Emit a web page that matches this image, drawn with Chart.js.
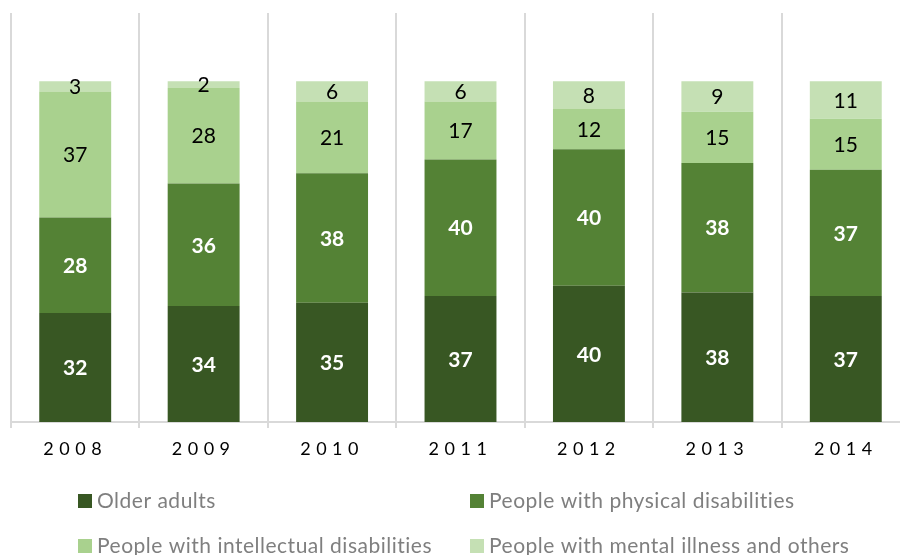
<!DOCTYPE html>
<html>
<head>
<meta charset="utf-8">
<script src="https://cdn.jsdelivr.net/npm/chart.js@4"></script>
<style>
html,body{margin:0;padding:0;overflow:hidden;background:#fff;width:900px;height:555px;}
canvas{display:block;}
</style>
</head>
<body>
<canvas id="c" width="920" height="555"></canvas>
<script>
const years = ["2008","2009","2010","2011","2012","2013","2014"];
const seriesNames = ["Older adults","People with physical disabilities","People with intellectual disabilities","People with mental illness and others"];
const olderAdults = [32,34,35,37,40,38,37];
const physical = [28,36,38,40,40,38,37];
const intellectual = [37,28,21,17,12,15,15];
const mental = [3,2,6,6,8,9,11];
const colors = ["#385723","#548235","#a9d18e","#c5e0b4"];
const labelColors = ["#ffffff","#ffffff","#000000","#000000"];
const labelWeights = ["bold","bold","normal","normal"];
const FONT = "Lato, 'Open Sans', sans-serif";

const spacing = {
  id:'spacing',
  beforeDraw(chart){ chart.ctx.letterSpacing = '5.5px'; },
  beforeDatasetsDraw(chart){ chart.ctx.letterSpacing = '0px'; }
};

const valueLabels = {
  id:'valueLabels',
  afterDatasetsDraw(chart){
    const ctx = chart.ctx;
    ctx.save();
    ctx.letterSpacing = '0px';
    ctx.textAlign='center';
    ctx.textBaseline='middle';
    chart.data.datasets.forEach((ds,i)=>{
      const meta = chart.getDatasetMeta(i);
      meta.data.forEach((el,j)=>{
        const cy = (el.y + el.base)/2;
        ctx.fillStyle = labelColors[i];
        ctx.font = labelWeights[i] + " 21px " + FONT;
        ctx.fillText(String(ds.data[j]), el.x, cy+1);
      });
    });
    ctx.restore();
  }
};

const customLegend = {
  id:'customLegend',
  afterDraw(chart){
    const ctx = chart.ctx;
    ctx.save();
    ctx.letterSpacing = '0.5px';
    const pos = [[78,501],[470,501],[78,546],[470,546]];
    chart.data.datasets.forEach((ds,i)=>{
      const [x,y] = pos[i];
      ctx.fillStyle = ds.backgroundColor;
      ctx.fillRect(x, y-7, 14, 14);
      ctx.fillStyle = "#7f7f7f";
      ctx.font = "21px " + FONT;
      ctx.textAlign='left';
      ctx.textBaseline='middle';
      ctx.fillText(ds.label, x+19, y);
    });
    ctx.restore();
  }
};

const dataSeries = [olderAdults, physical, intellectual, mental];

new Chart(document.getElementById('c'), {
  type:'bar',
  data:{
    labels: years,
    datasets: dataSeries.map((d,i)=>({
      label: seriesNames[i],
      data: d,
      backgroundColor: colors[i],
      borderWidth:0,
      barPercentage:0.56,
      categoryPercentage:1.0
    }))
  },
  options:{
    responsive:false,
    animation:false,
    devicePixelRatio:1,
    layout:{padding:{left:11,right:10,top:13,bottom:0}},
    plugins:{legend:{display:false},tooltip:{enabled:false}},
    scales:{
      x:{
        stacked:true,
        offset:true,
        grid:{display:true,offset:true,color:'#d9d9d9',lineWidth:2,tickLength:6,drawOnChartArea:true},
        border:{display:true,color:'#d9d9d9',width:2},
        ticks:{
          color:'#000',
          padding:10,
          font:{family:FONT,size:18}
        },
        afterFit(scale){ scale.height = 133; }
      },
      y:{
        stacked:true,
        display:false,
        min:0,
        max:120
      }
    }
  },
  plugins:[spacing, valueLabels, customLegend]
});
</script>
</body>
</html>
